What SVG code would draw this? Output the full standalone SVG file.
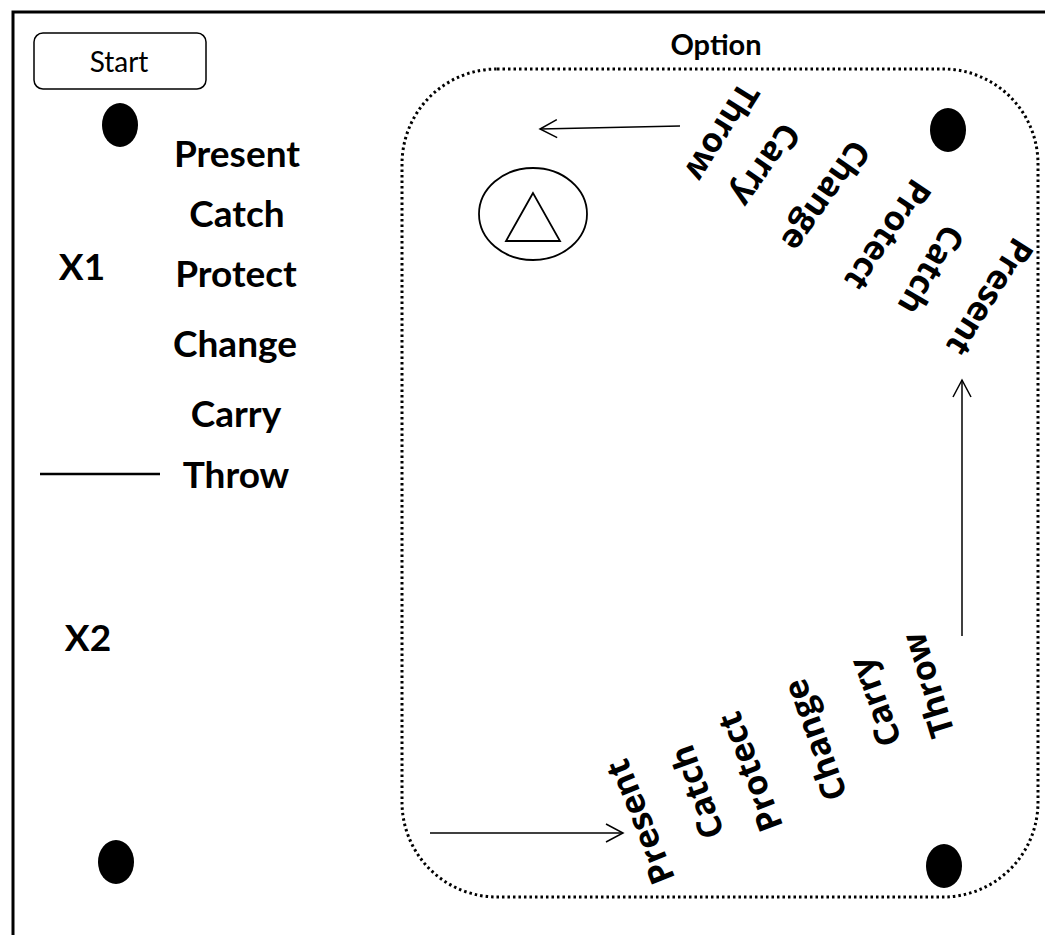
<svg xmlns="http://www.w3.org/2000/svg" width="1045" height="935" viewBox="0 0 1045 935">
<style>
.b{font-family:Lato,"Open Sans","Liberation Sans",sans-serif;font-weight:bold;fill:#000}
.big{font-size:37px}
.rot{font-family:"Open Sans","Noto Sans","Liberation Sans",sans-serif;font-weight:bold;font-size:34px;fill:#000}
.dot{fill:#000}
.ln{stroke:#000;stroke-width:1.5;fill:none}
</style>
<defs>
<marker id="ah" viewBox="0 0 20 20" refX="18" refY="10" markerWidth="20" markerHeight="20" markerUnits="userSpaceOnUse" orient="auto">
<path d="M1,1 L18,10 L1,19" fill="none" stroke="#000" stroke-width="1.5"/>
</marker>
</defs>
<rect width="1045" height="935" fill="#fff"/>
<path d="M13,935 V12 H1045" fill="none" stroke="#000" stroke-width="3"/>
<rect x="402" y="69" width="636" height="828" rx="95" ry="95" fill="none" stroke="#000" stroke-width="3" stroke-dasharray="2.5 3"/>
<text class="b" x="716" y="55" font-size="29" text-anchor="middle">Option</text>
<g id="start">
<rect x="34" y="33" width="172" height="56" rx="9" fill="#fff" stroke="#000" stroke-width="1.5"/>
<text x="119" y="72" font-family="Lato,'Open Sans',sans-serif" font-size="28" text-anchor="middle">Start</text>
</g>
<g id="dots">
<ellipse class="dot" cx="120" cy="125" rx="18" ry="22"/>
<ellipse class="dot" cx="948" cy="130" rx="18" ry="22"/>
<ellipse class="dot" cx="116" cy="862" rx="18" ry="22"/>
<ellipse class="dot" cx="944" cy="866" rx="18" ry="22"/>
</g>
<g id="left-list" class="b big" text-anchor="middle">
<text x="237" y="167">Present</text>
<text x="237" y="227">Catch</text>
<text x="236" y="287">Protect</text>
<text x="235" y="357">Change</text>
<text x="236" y="427">Carry</text>
<text x="236" y="488">Throw</text>
</g>
<g id="labels" class="b big" text-anchor="middle">
<text x="82" y="280">X1</text>
<text x="88" y="651">X2</text>
</g>
<line x1="40" y1="474" x2="160" y2="474" stroke="#000" stroke-width="2.5"/>
<g id="symbol">
<ellipse cx="533" cy="214" rx="54" ry="46" fill="none" stroke="#000" stroke-width="1.8"/>
<path d="M533,193 L506,241 L560,241 Z" fill="none" stroke="#000" stroke-width="1.8"/>
</g>
<g id="top-list" class="rot" text-anchor="middle">
<text transform="translate(722,132) rotate(122)" dy="0.35em">Throw</text>
<text transform="translate(766,165) rotate(125)" dy="0.35em">Carry</text>
<text transform="translate(826,196) rotate(125)" dy="0.35em">Change</text>
<text transform="translate(888,235) rotate(124)" dy="0.35em">Protect</text>
<text transform="translate(931,270) rotate(120)" dy="0.35em">Catch</text>
<text transform="translate(990,297) rotate(122)" dy="0.35em">Present</text>
</g>
<g id="bottom-list" class="rot" text-anchor="middle">
<text transform="translate(640,822) rotate(-112)" dy="0.35em">Present</text>
<text transform="translate(697,792) rotate(-110)" dy="0.35em">Catch</text>
<text transform="translate(750,772) rotate(-111)" dy="0.35em">Protect</text>
<text transform="translate(815,740) rotate(-110)" dy="0.35em">Change</text>
<text transform="translate(875,702) rotate(-110)" dy="0.35em">Carry</text>
<text transform="translate(928,685) rotate(-107)" dy="0.35em">Throw</text>
</g>
<g id="connectors">
<line class="ln" x1="680" y1="126" x2="540" y2="129" marker-end="url(#ah)"/>
<line class="ln" x1="962" y1="636" x2="962" y2="380" marker-end="url(#ah)"/>
<line class="ln" x1="430" y1="833" x2="623" y2="833" marker-end="url(#ah)"/>
</g>
</svg>
